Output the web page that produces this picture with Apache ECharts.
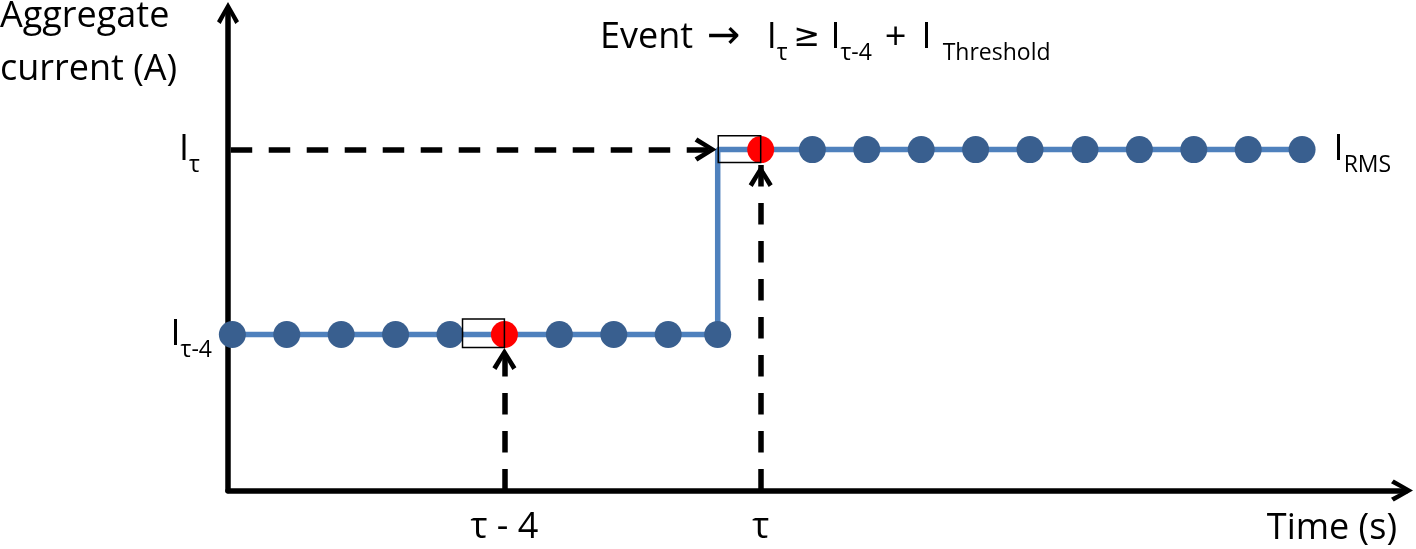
<!DOCTYPE html>
<html>
<head>
<meta charset="utf-8">
<script src="https://cdn.jsdelivr.net/npm/echarts@6/dist/echarts.min.js"></script>
<style>
  html, body { margin: 0; padding: 0; background: #fff; }
  #chart { width: 1416px; height: 549px; }
</style>
</head>
<body>
<div id="chart"></div>
<script>
  // sample times (s) before and after the step
  const lowTimes = [0, 1, 2, 3, 4, 5, 6.01, 7.01, 8.01, 8.92]
  const highTimes = [9.71, 10.66, 11.66, 12.66, 13.66, 14.66, 15.67, 16.67, 17.67, 18.67, 19.66]
  const lowLevel = 3.24
  const highLevel = 7.08
  const tau = 9.71
  const tauMinus4 = 5

  // sliding window boxes
  const windowX0 = [4.23, 8.93]
  const windowX1 = [5, 9.71]
  const windowY0 = [2.97, 6.81]
  const windowY1 = [3.56, 7.37]

  // dashed guides: where the arrow heads end
  const guideLevelStart = -0.03
  const guideLevelEnd = 8.9
  const guideTau4End = 2.96
  const guideTauEnd = 6.76

  const xTickValues = [tauMinus4, tau]
  const xTickLabels = ['τ - 4', 'τ']
  const yTickValues = [lowLevel, highLevel]
  const yTickLabels = ['{i|I}{sub|τ-4}', '{i|I}{subr|τ}']

  const FONT = 'Open Sans'
  const chevron = 'path://M12,0 L24,21 L20,24 L12,9 L4,24 L0,21 Z'

  const mainStyle = (left, family, size) => ({
    fontFamily: family || FONT, fontSize: size || 36, fontWeight: 'normal', color: '#000',
    lineHeight: 36, padding: [10, 0, 10, left || 0]
  })
  const subStyle = (left, right) => ({
    fontFamily: FONT, fontSize: 23, fontWeight: 'normal', color: '#000',
    lineHeight: 24, padding: [31, right || 0, 0, left || 0]
  })

  const rich = {
    i: mainStyle(0),
    sub: subStyle(0, 0),
    subr: subStyle(0, 12)
  }

  /* formula in the title, gaps set by padding */
  const titleRich = {
    m: mainStyle(0),
    arr: mainStyle(14, 'DejaVu Sans', 40),
    i1: mainStyle(26),
    ge: mainStyle(6, 'DejaVu Sans', 32),
    i2: mainStyle(10),
    plus: mainStyle(13, FONT, 38),
    i3: mainStyle(15),
    sub: subStyle(0, 0),
    subT: subStyle(11, 0)
  }

  const near = (a, b) => Math.abs(a - b) < 1e-6

  /* curve: low level, step up, high level */
  let curve = lowTimes.map(t => [t, lowLevel])
  curve.push([lowTimes[lowTimes.length - 1], highLevel])
  curve = curve.concat(highTimes.map(t => [t, highLevel]))

  /* dots, the two compared samples are red */
  let dots = lowTimes.map(t => [t, lowLevel]).concat(highTimes.map(t => [t, highLevel]))
  dots = dots.map((p, idx) => {
    let item = { value: p }
    if (near(p[0], tau) || near(p[0], tauMinus4)) item.itemStyle = { color: '#ff0000' }
    if (idx === dots.length - 1) {
      item.label = {
        show: true, position: 'right', distance: 18,
        formatter: '{i|I}{sub|RMS}', rich: rich
      }
    }
    return item
  })

  let boxes = windowX0.map((x0, k) => [
    { coord: [x0, windowY0[k]] },
    { coord: [windowX1[k], windowY1[k]] }
  ])

  let guides = [
    [{ coord: [guideLevelStart, highLevel] }, { coord: [guideLevelEnd, highLevel] }],
    [{ coord: [tauMinus4, 0] }, { coord: [tauMinus4, guideTau4End] }],
    [{ coord: [tau, 0] }, { coord: [tau, guideTauEnd] }]
  ]

  let axisLine = {
    show: true,
    onZero: false,
    lineStyle: { color: '#000', width: 5.5 },
    symbol: ['none', chevron],
    symbolSize: [24, 22],
    symbolOffset: [0, -4]
  }

  let chart = echarts.init(document.getElementById('chart'), null, { renderer: 'canvas' })
  chart.setOption({
    animation: false,
    backgroundColor: '#fff',
    textStyle: { fontFamily: FONT },
    title: [
      {
        text: '{m|Event}{arr|→}{i1|I}{sub|τ}{ge|≥}{i2|I}{sub|τ-4}{plus|+}{i3|I}{subT|Threshold}',
        left: 600, top: 20, padding: 0,
        textStyle: { fontWeight: 'normal', rich: titleRich }
      },
      {
        text: 'Aggregate\ncurrent (A)',
        left: 0, top: -10, padding: 0,
        textStyle: { fontFamily: FONT, fontSize: 36, fontWeight: 'normal', color: '#000', lineHeight: 53 }
      }
    ],
    grid: { left: 228, right: 10, top: 9, bottom: 58.5, outerBoundsMode: 'none' },
    xAxis: {
      type: 'value',
      min: -0.08,
      max: 21.57,
      axisLine: axisLine,
      axisTick: { show: false },
      splitLine: { show: false },
      axisLabel: {
        customValues: xTickValues,
        margin: 19,
        fontFamily: FONT, fontSize: 36, color: '#000',
        formatter: v => {
          let k = xTickValues.findIndex(t => near(t, v))
          return k < 0 ? '' : xTickLabels[k]
        }
      },
      name: 'Time (s)',
      nameLocation: 'end',
      nameGap: -9,
      nameTextStyle: { fontFamily: FONT, fontSize: 36, color: '#000', align: 'right', verticalAlign: 'top', padding: [20, 0, 0, 0] }
    },
    yAxis: {
      type: 'value',
      min: 0,
      max: 10,
      axisLine: axisLine,
      axisTick: { show: false },
      splitLine: { show: false },
      axisLabel: {
        customValues: yTickValues,
        margin: 16,
        rich: rich,
        formatter: v => {
          let k = yTickValues.findIndex(t => near(t, v))
          return k < 0 ? '' : yTickLabels[k]
        }
      }
    },
    series: [
      {
        type: 'line',
        data: curve,
        showSymbol: false,
        symbol: 'none',
        z: 2,
        silent: true,
        lineStyle: { color: '#4f81bd', width: 5.5 },
        markArea: {
          z: 10,
          silent: true,
          label: { show: false },
          itemStyle: { color: 'rgba(0,0,0,0)', borderColor: '#000', borderWidth: 1.5 },
          data: boxes
        },
        markLine: {
          z: 5,
          silent: true,
          symbol: ['none', chevron],
          symbolSize: [24, 22],
          symbolOffset: [0, [0, 11]],
          label: { show: false },
          lineStyle: { color: '#000', width: 5.5, type: [21.5, 16.5], opacity: 1 },
          emphasis: { disabled: true },
          data: guides
        }
      },
      {
        type: 'scatter',
        data: dots,
        symbolSize: 27,
        z: 3,
        silent: true,
        itemStyle: { color: '#395f8f', opacity: 1 }
      }
    ]
  })
</script>
</body>
</html>
